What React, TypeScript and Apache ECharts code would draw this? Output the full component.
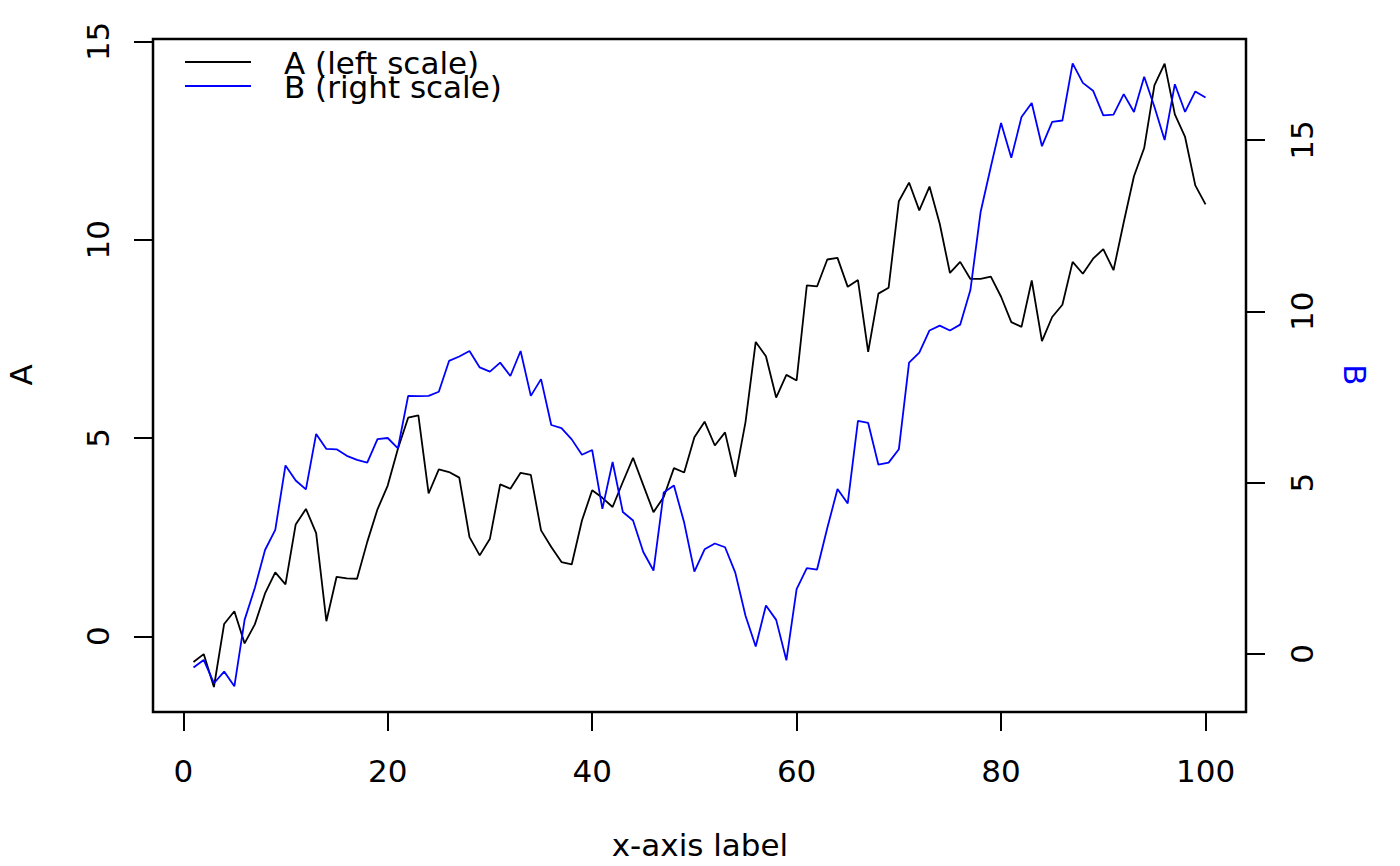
import React, { useEffect, useRef } from "react";
import * as echarts from "echarts";

const FONT = "DejaVu Sans";

// x positions (observation index)
const xIndex: number[] = Array.from({ length: 100 }, (_, i) => i + 1);

// Series A (left scale)
const seriesA: number[] = [
  -0.65, -0.45, -1.28, 0.31, 0.63, -0.18, 0.30, 1.08, 1.61, 1.31,
  2.82, 3.21, 2.60, 0.38, 1.50, 1.46, 1.45, 2.38, 3.20, 3.80,
  4.73, 5.51, 5.57, 3.60, 4.21, 4.14, 4.00, 2.50, 2.04, 2.46,
  3.83, 3.72, 4.12, 4.07, 2.67, 2.25, 1.87, 1.81, 2.92, 3.68,
  3.49, 3.26, 3.89, 4.50, 3.81, 3.13, 3.51, 4.24, 4.13, 5.02,
  5.41, 4.81, 5.14, 4.02, 5.40, 7.42, 7.06, 6.02, 6.59, 6.45,
  8.85, 8.82, 9.50, 9.54, 8.81, 8.98, 7.17, 8.64, 8.79, 10.97,
  11.44, 10.74, 11.34, 10.40, 9.16, 9.44, 9.01, 9.01, 9.07, 8.56,
  7.92, 7.80, 8.97, 7.44, 8.05, 8.36, 9.44, 9.14, 9.52, 9.76,
  9.23, 10.44, 11.60, 12.31, 13.89, 14.44, 13.16, 12.59, 11.37, 10.89,
];

// Series B (right scale)
const seriesB: number[] = [
  -0.40, -0.18, -0.86, -0.52, -0.95, 0.99, 1.92, 3.03, 3.62, 5.50,
  5.06, 4.80, 6.42, 5.98, 5.97, 5.78, 5.66, 5.58, 6.27, 6.30,
  6.00, 7.53, 7.52, 7.53, 7.65, 8.55, 8.68, 8.84, 8.36, 8.24,
  8.50, 8.11, 8.84, 7.53, 8.02, 6.68, 6.59, 6.26, 5.81, 5.95,
  4.23, 5.60, 4.14, 3.89, 2.97, 2.43, 4.71, 4.91, 3.83, 2.40,
  3.05, 3.22, 3.11, 2.37, 1.11, 0.21, 1.41, 0.99, -0.19, 1.89,
  2.50, 2.46, 3.67, 4.81, 4.39, 6.80, 6.74, 5.52, 5.58, 5.97,
  8.50, 8.79, 9.44, 9.58, 9.44, 9.61, 10.62, 12.90, 14.22, 15.50,
  14.48, 15.67, 16.08, 14.82, 15.53, 15.57, 17.24, 16.67, 16.44, 15.72,
  15.74, 16.34, 15.82, 16.85, 15.97, 15.00, 16.63, 15.82, 16.42, 16.24,
];

const xTicks: number[] = [0, 20, 40, 60, 80, 100];
const leftTicks: number[] = [0, 5, 10, 15];
const rightTicks: number[] = [0, 5, 10, 15];

const legendNames: string[] = ["A (left scale)", "B (right scale)"];
const colors: string[] = ["#000000", "#0000ff"];

export default function App() {
  const ref = useRef<HTMLDivElement>(null);

  useEffect(() => {
    if (!ref.current) return;
    const chart = echarts.init(ref.current, undefined, { renderer: "svg" });

    const tickStyle = { color: "#000", width: 2 };
    const labelStyle = { color: "#000", fontSize: 31, fontFamily: FONT };

    const option: any = {
      animation: false,
      backgroundColor: "#ffffff",
      grid: {
        left: 153,
        right: 154,
        top: 39,
        bottom: 154,
        show: true,
        borderColor: "#000",
        borderWidth: 2.5,
        backgroundColor: "transparent",
      },
      xAxis: {
        type: "value",
        min: -2.96,
        max: 103.96,
        axisLine: { show: false, onZero: false },
        axisTick: { show: true, length: 19, lineStyle: tickStyle, customValues: xTicks },
        axisLabel: { ...labelStyle, margin: 43, customValues: xTicks },
        splitLine: { show: false },
      },
      yAxis: [
        {
          type: "value",
          position: "left",
          min: -1.91,
          max: 15.06,
          axisLine: { show: false, onZero: false },
          axisTick: { show: true, length: 19, lineStyle: tickStyle, customValues: leftTicks },
          axisLabel: { ...labelStyle, rotate: 90, margin: 40, customValues: leftTicks },
          splitLine: { show: false },
        },
        {
          type: "value",
          position: "right",
          min: -1.7,
          max: 17.95,
          axisLine: { show: false, onZero: false },
          axisTick: { show: true, length: 19, lineStyle: tickStyle, customValues: rightTicks },
          axisLabel: { ...labelStyle, rotate: 90, margin: 40, customValues: rightTicks },
          splitLine: { show: false },
        },
      ],
      series: [
        {
          name: legendNames[0],
          type: "line",
          xAxisIndex: 0,
          yAxisIndex: 0,
          symbol: "none",
          lineStyle: { color: colors[0], width: 1.8 },
          data: xIndex.map((x, i) => [x, seriesA[i]]),
        },
        {
          name: legendNames[1],
          type: "line",
          xAxisIndex: 0,
          yAxisIndex: 1,
          symbol: "none",
          lineStyle: { color: colors[1], width: 1.8 },
          data: xIndex.map((x, i) => [x, seriesB[i]]),
        },
      ],
      graphic: [
        {
          type: "line",
          shape: { x1: 185, y1: 62, x2: 251, y2: 62 },
          style: { stroke: colors[0], lineWidth: 1.8 },
        },
        {
          type: "line",
          shape: { x1: 185, y1: 86, x2: 251, y2: 86 },
          style: { stroke: colors[1], lineWidth: 1.8 },
        },
        {
          type: "text",
          x: 284,
          y: 62.5,
          style: {
            text: legendNames[0],
            fill: "#000",
            fontSize: 31,
            fontFamily: FONT,
            textAlign: "left",
            textVerticalAlign: "middle",
          },
        },
        {
          type: "text",
          x: 284,
          y: 87,
          style: {
            text: legendNames[1],
            fill: "#000",
            fontSize: 31,
            fontFamily: FONT,
            textAlign: "left",
            textVerticalAlign: "middle",
          },
        },
        {
          type: "text",
          x: 700,
          y: 845,
          style: {
            text: "x-axis label",
            fill: "#000",
            fontSize: 31,
            fontFamily: FONT,
            textAlign: "center",
            textVerticalAlign: "middle",
          },
        },
        {
          type: "text",
          x: 21,
          y: 375,
          rotation: Math.PI / 2,
          style: {
            text: "A",
            fill: "#000",
            fontSize: 31,
            fontFamily: FONT,
            textAlign: "center",
            textVerticalAlign: "middle",
          },
        },
        {
          type: "text",
          x: 1355,
          y: 375,
          rotation: -Math.PI / 2,
          style: {
            text: "B",
            fill: colors[1],
            fontSize: 31,
            fontFamily: FONT,
            textAlign: "center",
            textVerticalAlign: "middle",
          },
        },
      ],
    };

    chart.setOption(option);
    return () => chart.dispose();
  }, []);

  return (
    <div
      ref={ref}
      style={{ position: "fixed", left: 0, top: 0, width: 1400, height: 866, background: "#fff" }}
    />
  );
}
